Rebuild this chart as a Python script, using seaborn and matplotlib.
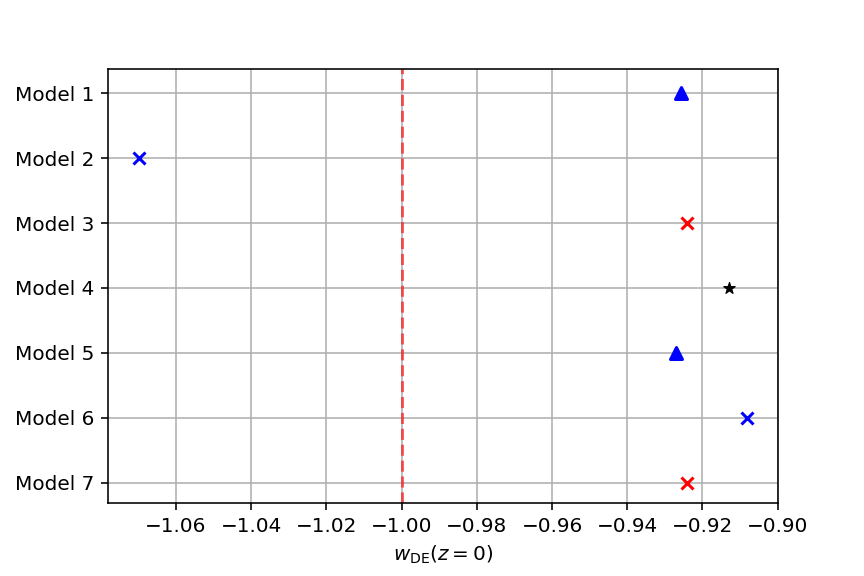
import numpy as np
import pandas as pd
import matplotlib
matplotlib.use('Agg')
import matplotlib.pyplot as plt
import seaborn as sns

models = ['Model 1', 'Model 2', 'Model 3', 'Model 4', 'Model 5', 'Model 6', 'Model 7']
w_de = [-0.9256, -1.0699, -0.9240, -0.9128, -0.9271, -0.9082, -0.9242]
markers = ['^', 'x', 'x', '*', '^', 'x', 'x']
colors = ['blue', 'blue', 'red', 'black', 'blue', 'blue', 'red']

df = pd.DataFrame({'model': models, 'w': w_de, 'pos': np.arange(len(models))})

fig = plt.figure(figsize=(6, 4), dpi=144)
ax = fig.add_axes([0.125, 0.127, 0.775, 0.753])

for i, row in df.iterrows():
    kw = dict(marker=markers[i], color=colors[i], s=36, linewidth=1.5)
    if markers[i] == '^':
        kw['edgecolor'] = colors[i]
    elif markers[i] == '*':
        kw['edgecolor'] = colors[i]
        kw['linewidth'] = 0.6
    sns.scatterplot(x=[row['w']], y=[row['pos']], ax=ax, zorder=3, **kw)

ax.axvline(-1.0, color='red', linestyle='--', alpha=0.6, zorder=2)
ax.set_yticks(df['pos'])
ax.set_yticklabels(models)
ax.set_ylim(6.31, -0.37)
ax.set_xlim(-1.0781, -0.9)
ax.grid(True)
ax.set_axisbelow(True)
ax.set_xlabel(r'$w_{\rm DE}(z=0)$')
ax.set_ylabel('')

fig.savefig('out.png', dpi=144)
